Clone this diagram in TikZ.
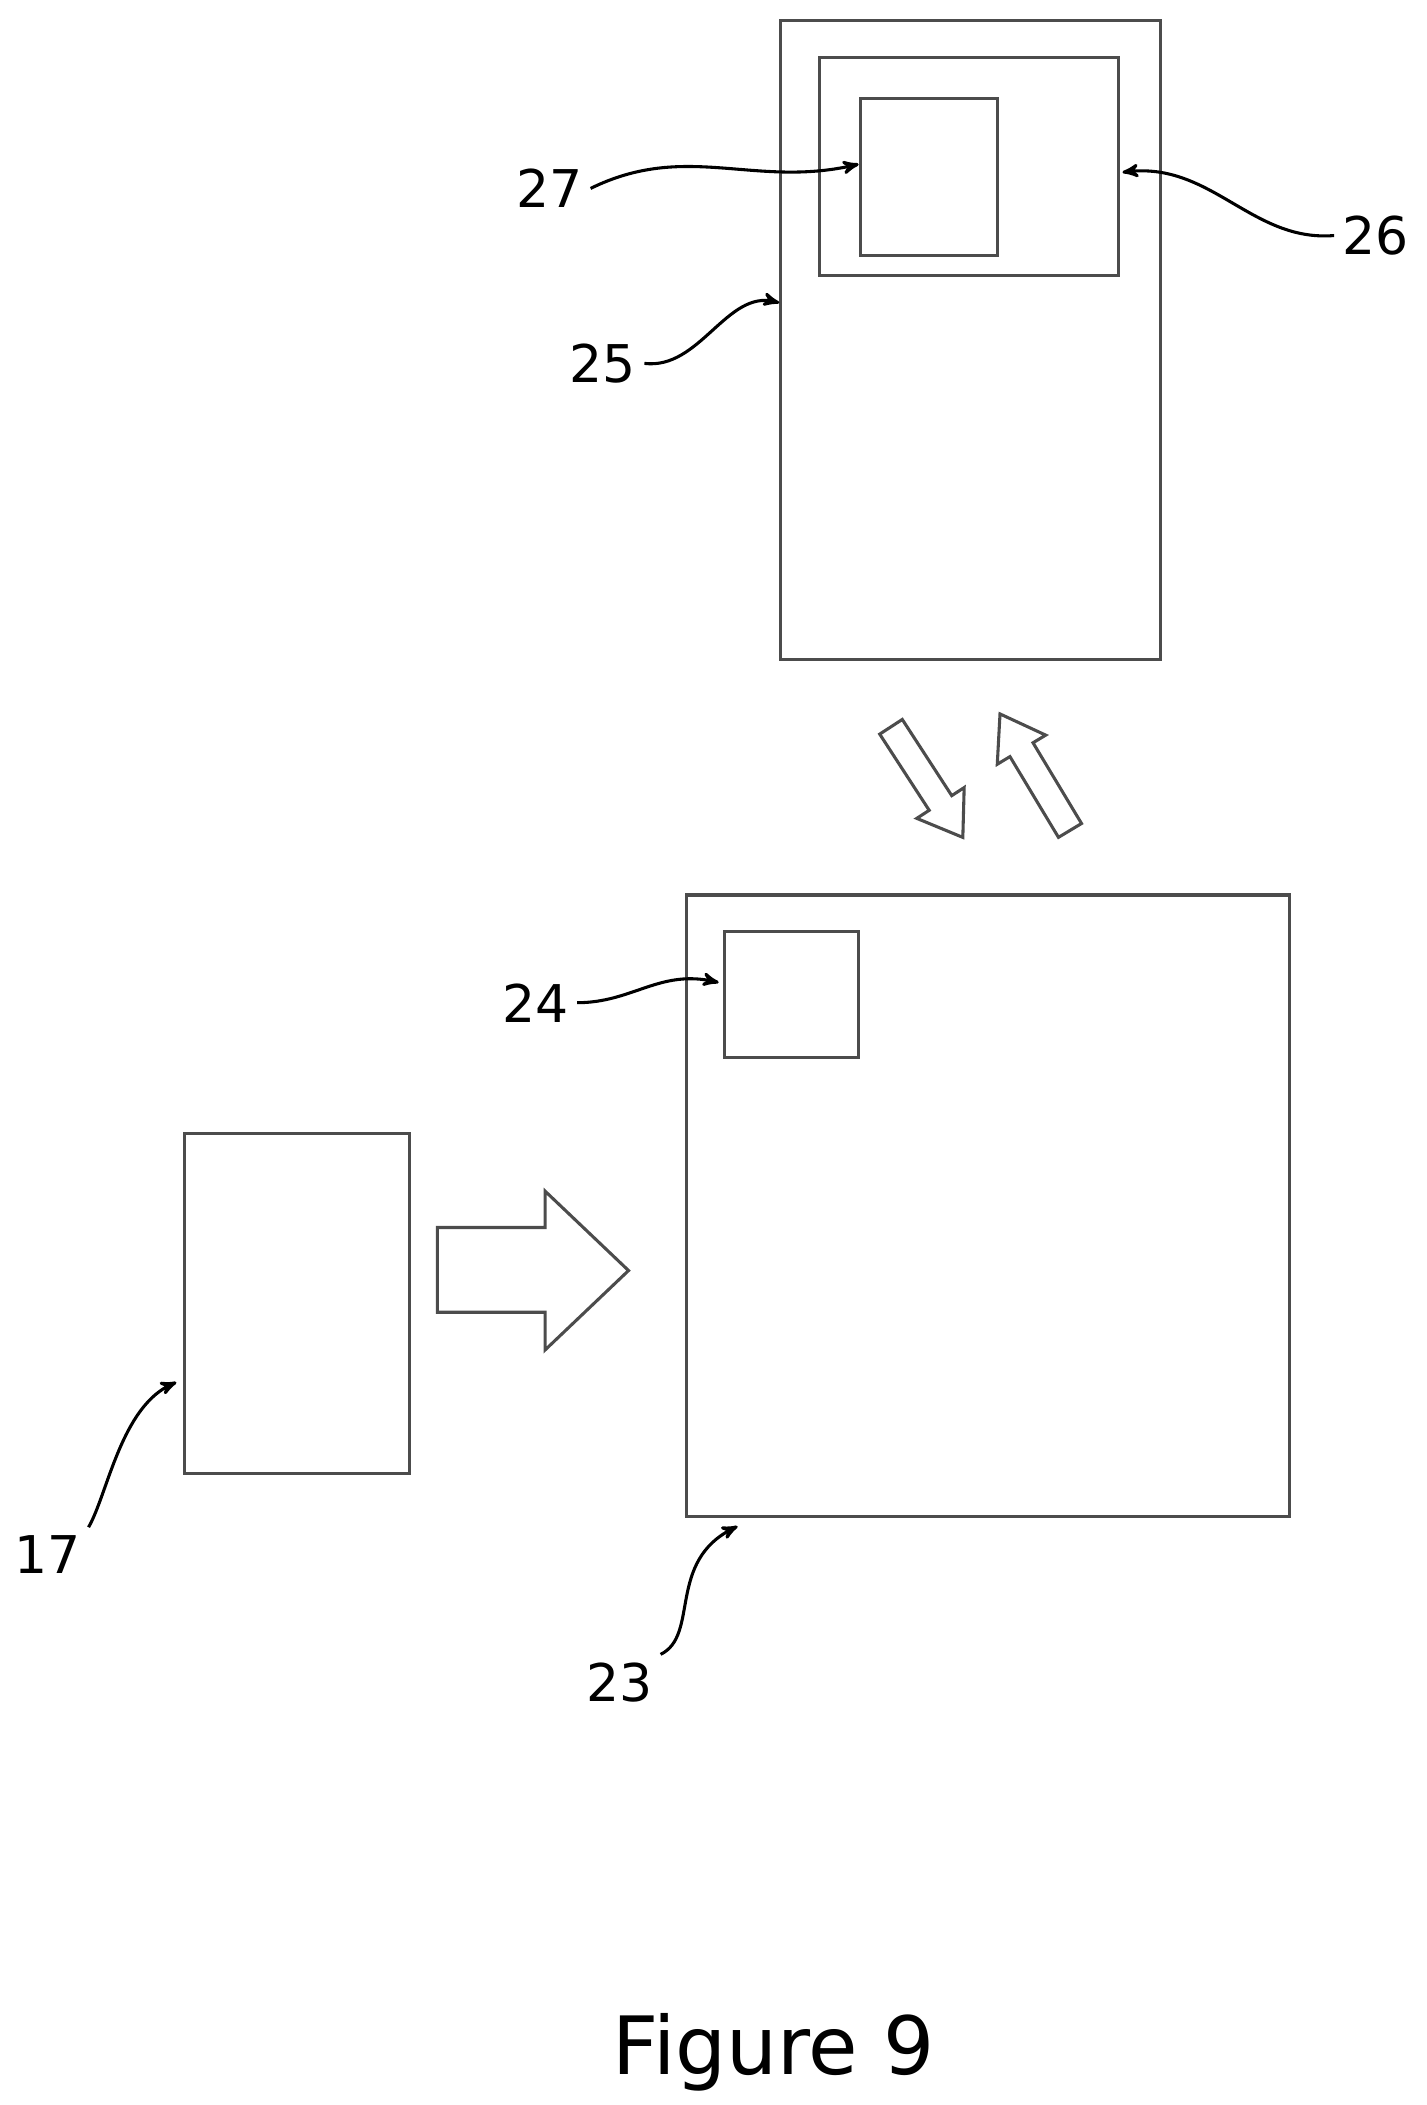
\documentclass[tikz,border=0pt]{standalone}
\usepackage{fontspec}
\setmainfont{DejaVu Sans}
\usetikzlibrary{arrows}
\begin{document}
\begin{tikzpicture}[x=0.02cm,y=-0.02cm,>=stealth',
  box/.style={draw=black!70,line width=1.3pt},
  lead/.style={->,line width=1.3pt},
  num/.style={font=\fontsize{22}{22}\selectfont}]
  \useasboundingbox (0,0) rectangle (1060,1564);

  % boxes
  \draw[box] (580,15) rectangle (862,490);
  \draw[box] (609,43) rectangle (831,205);
  \draw[box] (639,73) rectangle (741,190);
  \draw[box] (510,665) rectangle (958,1127);
  \draw[box] (538,692) rectangle (638,786);
  \draw[box] (137,842) rectangle (304,1095);

  % hollow arrows
  \draw[box] (325,912) -- (405,912) -- (405,885) -- (467,944) -- (405,1003)
    -- (405,975) -- (325,975) -- cycle;
  \begin{scope}[shift={(662,540)},x=1cm,y=1cm,rotate=-57]
    \draw[box] (0,0.2) -- (1.35,0.2) -- (1.35,0.42) -- (1.96,0) -- (1.35,-0.42)
      -- (1.35,-0.2) -- (0,-0.2) -- cycle;
  \end{scope}
  \begin{scope}[shift={(795,617)},x=1cm,y=1cm,rotate=121]
    \draw[box] (0,0.2) -- (1.4,0.2) -- (1.4,0.42) -- (2.02,0) -- (1.4,-0.42)
      -- (1.4,-0.2) -- (0,-0.2) -- cycle;
  \end{scope}

  % reference numerals
  \node[num] (n27) at (408,140) {27};
  \node[num] (n26) at (1022,175) {26};
  \node[num] (n25) at (448,270) {25};
  \node[num] (n24) at (398,745) {24};
  \node[num] (n17) at (35,1155) {17};
  \node[num] (n23) at (460,1250) {23};
  \coordinate (t27) at (638,122);
  \coordinate (t26) at (834,128);
  \coordinate (t25) at (579,225);
  \coordinate (t24) at (534,730);
  \coordinate (t17) at (131,1027);
  \coordinate (t23) at (548,1134);
  \draw[lead] (n27.east) .. controls (510,105) and (560,140) .. (t27);
  \draw[lead] (n26.west) .. controls (930,180) and (900,120) .. (t26);
  \draw[lead] (n25.east) .. controls (520,275) and (540,215) .. (t25);
  \draw[lead] (n24.east) .. controls (470,745) and (490,720) .. (t24);
  \draw[lead] (n17.north east) .. controls (80,1110) and (90,1045) .. (t17);
  \draw[lead] (n23.north east) .. controls (520,1215) and (495,1160) .. (t23);

  \node[font=\fontsize{34}{34}\selectfont] (fig) at (575,1525) {Figure 9};
\end{tikzpicture}
\end{document}
